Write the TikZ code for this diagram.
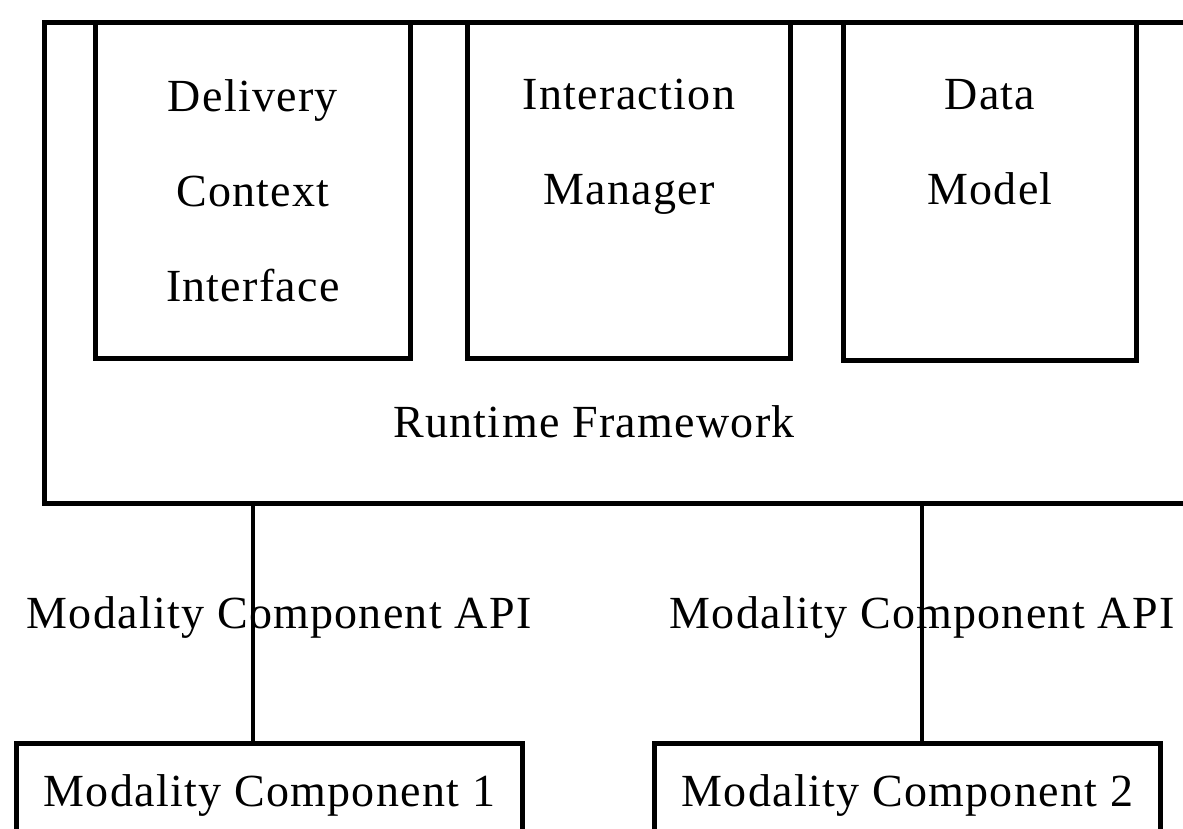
\documentclass[tikz,border=0pt]{standalone}
\usepackage{fontspec}
\setmainfont{Liberation Serif}[LetterSpace=2.8]
\usetikzlibrary{positioning}

\begin{document}
\begin{tikzpicture}[x=0.5pt, y=-0.5pt, line width=2.4pt,
	every node/.style={font=\fontsize{23}{47.5}\selectfont, inner sep=0pt},
	box/.style={draw, anchor=north west, minimum height=168pt},
	modbox/.style={draw, anchor=north west, minimum width=253pt, minimum height=52pt}]
	\useasboundingbox (0,0) rectangle (1183,829);
	\clip (0,0) rectangle (1183,829);

	\node (RuntimeFramework)   [box, minimum width=584pt, minimum height=240.5pt] at (42,20) {};
	\node (DeliveryContext)    [box, minimum width=157.5pt] at (93,20) {};
	\node (InteractionManager) [box, minimum width=161.5pt] at (465,20) {};
	\node (DataModel)          [box, minimum width=146.5pt, minimum height=169pt] at (841,20) {};

	\node (DeliveryText)    [below=28.5pt of DeliveryContext.north, align=center] {Delivery\\Context\\Interface};
	\node (InteractionText) [below=28.5pt of InteractionManager.north, align=center] {Interaction\\Manager};
	\node (DataText)        [below=28.5pt of DataModel.north, align=center] {Data\\Model};
	\node (RuntimeText)     [anchor=base] at (594,437) {Runtime Framework};

	\node (ModalityComponentOne) [modbox] at (14,741) {Modality Component 1};
	\node (ModalityComponentTwo) [modbox] at (652,741) {Modality Component 2};

	\node (ApiOne) [anchor=base] at (279,628) {Modality Component API};
	\node (ApiTwo) [anchor=base] at (922,628) {Modality Component API};

	\coordinate (TapOne) at (253,0);
	\coordinate (TapTwo) at (922,0);
	\draw (RuntimeFramework.south -| TapOne) -- (ModalityComponentOne.north -| TapOne);
	\draw (RuntimeFramework.south -| TapTwo) -- (ModalityComponentTwo.north -| TapTwo);
\end{tikzpicture}
\end{document}
